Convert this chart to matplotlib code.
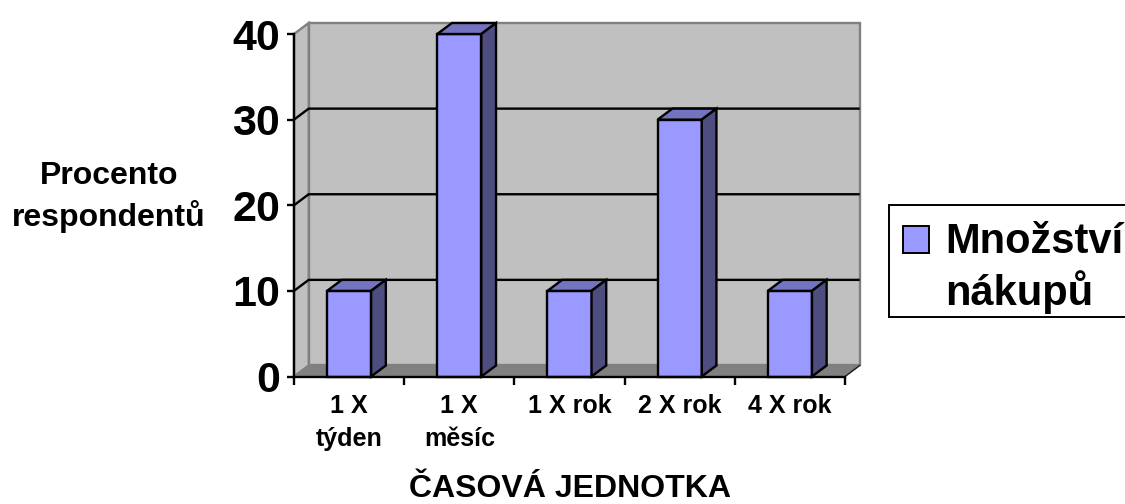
import matplotlib
matplotlib.use("Agg")
import matplotlib.pyplot as plt
from matplotlib.patches import Polygon, Rectangle

plt.rcParams['font.family'] = ['Liberation Sans', 'DejaVu Sans']
plt.rcParams['font.weight'] = 'bold'

# Data
categories = ["1 X\ntýden", "1 X\nměsíc", "1 X rok", "2 X rok", "4 X rok"]
values = [10, 40, 10, 30, 10]
y_ticks = [0, 10, 20, 30, 40]
series_name = "Množství\nnákupů"

W, H = 1125, 504
LW = 1.7
fig = plt.figure(figsize=(W / 100, H / 100), dpi=100)
ax = fig.add_axes([294 / W, 1 - 376.5 / H, 551 / W, 342.5 / H])
ax.set_xlim(0, len(categories))
ax.set_ylim(0, 40)

# 3D look: depth offset in data units
dx = 14.7 / 110.2
dy = 11.0 / 8.56
top = 40
n = len(categories)
bar_w = 0.4

# back wall, side wall, floor
ax.add_patch(Polygon([(dx, dy), (n + dx, dy), (n + dx, top + dy), (dx, top + dy)],
                     fc='#C0C0C0', ec='#808080', lw=LW, clip_on=False, zorder=1))
ax.add_patch(Polygon([(0, 0), (dx, dy), (dx, top + dy), (0, top)],
                     fc='#C0C0C0', ec='#808080', lw=LW, clip_on=False, zorder=1))
ax.add_patch(Polygon([(0, 0), (n, 0), (n + dx, dy), (dx, dy)],
                     fc='#808080', ec='#808080', lw=1, clip_on=False, zorder=1))
ax.plot([n, n + dx], [0, dy], color='#222222', lw=1, clip_on=False, zorder=2)

# gridlines run across the back wall and down the side wall
for t in y_ticks[1:-1]:
    ax.plot([0, dx, n + dx], [t, t + dy, t + dy], color='black', lw=LW,
            clip_on=False, zorder=2, solid_capstyle='butt')

# bars
for i, v in enumerate(values):
    x0 = i + 0.5 - bar_w / 2
    x1 = x0 + bar_w
    ax.add_patch(Rectangle((x0, 0), bar_w, v, fc='#9999FF', ec='black', lw=LW,
                           clip_on=False, zorder=3))
    ax.add_patch(Polygon([(x0, v), (x1, v), (x1 + dx, v + dy), (x0 + dx, v + dy)],
                         fc='#7373BF', ec='black', lw=LW, clip_on=False, zorder=3))
    ax.add_patch(Polygon([(x1, 0), (x1 + dx, dy), (x1 + dx, v + dy), (x1, v)],
                         fc='#4D4D80', ec='black', lw=LW, clip_on=False, zorder=3))

# axes
ax.patch.set_visible(False)
for s in ['top', 'right']:
    ax.spines[s].set_visible(False)
for s in ['left', 'bottom']:
    ax.spines[s].set_linewidth(LW)
    ax.spines[s].set_zorder(4)

ax.set_yticks(y_ticks)
ax.set_yticklabels([str(t) for t in y_ticks], fontsize=31)
ax.tick_params(axis='y', length=5, width=LW, pad=5)

# ticks sit between the categories, labels are centred under the bars
ax.set_xticks(range(n + 1))
ax.set_xticklabels([])
ax.tick_params(axis='x', length=5.5, width=LW)
for i, c in enumerate(categories):
    ax.annotate(c, (i + 0.5, 0), xytext=(0, -12.5), textcoords='offset points',
                ha='center', va='top', fontsize=18, linespacing=1.5,
                annotation_clip=False)

fig.text(570 / W, 1 - 497 / H, "ČASOVÁ JEDNOTKA", ha='center', va='baseline', fontsize=23)
fig.text(109 / W, 1 - 197 / H, "Procento\nrespondentů", ha='center', va='center',
         fontsize=23, linespacing=1.38)

# legend box runs off the right edge
fig.patches.append(Rectangle((889 / W, 1 - 317 / H), 300 / W, 112 / H, fc='white', ec='black',
                             lw=1.4, transform=fig.transFigure, figure=fig))
fig.patches.append(Rectangle((903 / W, 1 - 253 / H), 26 / W, 27 / H, fc='#9999FF', ec='black',
                             lw=1.4, transform=fig.transFigure, figure=fig))
line1, line2 = series_name.split("\n")
fig.text(945 / W, 1 - 253 / H, line1, ha='left', va='baseline', fontsize=30)
fig.text(945 / W, 1 - 305 / H, line2, ha='left', va='baseline', fontsize=30)

fig.savefig("out.png", dpi=100)
